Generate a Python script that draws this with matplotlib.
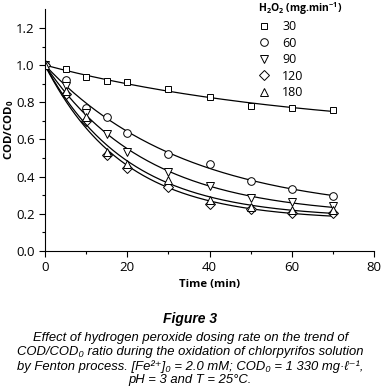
import numpy as np
import matplotlib
matplotlib.use("Agg")
import matplotlib.pyplot as plt

plt.rcParams['font.family'] = ['Open Sans', 'DejaVu Sans']
plt.rcParams['mathtext.fontset'] = 'custom'
plt.rcParams['mathtext.rm'] = 'Open Sans'
plt.rcParams['mathtext.it'] = 'Liberation Sans:italic'
plt.rcParams['mathtext.bf'] = 'Open Sans:bold'

# data
time = np.array([0, 5, 10, 15, 20, 30, 40, 50, 60, 70])
cod_30 = np.array([1.0, 0.977, 0.937, 0.916, 0.910, 0.871, 0.826, 0.778, 0.770, 0.760])
cod_60 = np.array([1.0, 0.918, 0.772, 0.719, 0.637, 0.521, 0.468, 0.375, 0.332, 0.296])
cod_90 = np.array([1.0, 0.890, 0.740, 0.627, 0.534, 0.426, 0.351, 0.283, 0.265, 0.242])
cod_120 = np.array([1.0, 0.845, 0.697, 0.516, 0.448, 0.342, 0.253, 0.224, 0.206, 0.203])
cod_180 = np.array([1.0, 0.860, 0.719, 0.530, 0.468, 0.380, 0.275, 0.238, 0.220, 0.220])

doses = ["30", "60", "90", "120", "180"]
series = [cod_30, cod_60, cod_90, cod_120, cod_180]
markers = ["s", "o", "v", "D", "^"]
msizes = [5, 5.5, 5.5, 5, 5.5]


def fit_decay(t, y):
    # y = a + (1 - a) * exp(-k t), least squares over k
    best = None
    for k in np.linspace(0.0005, 0.2, 4000):
        e = np.exp(-k * t)
        g = 1 - e
        a = np.sum(g * (y - e)) / np.sum(g * g)
        r = np.sum((a + (1 - a) * e - y) ** 2)
        if best is None or r < best[0]:
            best = (r, a, k)
    return best[1], best[2]


fig = plt.figure(figsize=(3.81, 3.90), dpi=100)
ax = fig.add_axes([0.118, 0.3564, 0.864, 0.6196])

tt = np.linspace(0, 70, 200)
for y, m, ms, lab in zip(series, markers, msizes, doses):
    a, k = fit_decay(time, y)
    ax.plot(tt, a + (1 - a) * np.exp(-k * tt), color='black', linewidth=0.9)
    ax.plot(time, y, linestyle='none', marker=m, markersize=ms,
            markerfacecolor='white', markeredgecolor='black',
            markeredgewidth=0.7, label=lab)

ax.set_xlim(0, 80)
ax.set_ylim(0, 1.3)
ax.set_xticks([0, 20, 40, 60, 80])
ax.set_xticks([10, 30, 50, 70], minor=True)
ax.set_yticks([0.0, 0.2, 0.4, 0.6, 0.8, 1.0, 1.2])
ax.set_yticks(np.arange(0.1, 1.3, 0.2), minor=True)
ax.set_yticklabels(["0.0", "0.2", "0.4", "0.6", "0.8", "1.0", "1.2"])
ax.tick_params(which='major', direction='out', length=4, width=0.8, labelsize=9.5)
ax.tick_params(which='minor', direction='out', length=2, width=0.8)
ax.spines['top'].set_visible(False)
ax.spines['right'].set_visible(False)

ax.set_xlabel("Time (min)", fontweight='bold', fontsize=8.2, labelpad=3)
ax.set_ylabel(r"COD/COD$_\mathbf{0}$", fontweight='bold', fontsize=8.2, va='center')
ax.yaxis.set_label_coords(-0.11, 0.5)

leg = ax.legend(loc='upper left', bbox_to_anchor=(258 / 381, 1.0),
                bbox_transform=fig.transFigure, frameon=False,
                title=r"H$_\mathbf{2}$O$_\mathbf{2}$ (mg.min$^\mathbf{-1}$)",
                title_fontproperties={'weight': 'bold', 'size': 7.5},
                fontsize=9, labelspacing=0.28, handletextpad=0.95,
                handlelength=1.0, borderpad=0, borderaxespad=0)
leg._legend_box.align = "left"

fig.text(0.5, 0.181, "Figure 3", ha='center', va='center',
         fontsize=10, fontweight='bold', style='italic', family='Liberation Sans')
caption = [
    "Effect of hydrogen peroxide dosing rate on the trend of",
    "COD/COD\u2080 ratio during the oxidation of chlorpyrifos solution",
    "by Fenton process. [Fe\u00b2\u207a]\u2080 = 2.0 mM; COD\u2080 = 1 330 mg\u00b7\u2113\u207b\u00b9,",
    "pH = 3 and T = 25°C.",
]
fig.text(0.5, 0.079, "\n".join(caption), ha='center', va='center',
         multialignment='center', linespacing=1.2,
         fontsize=9.4, style='italic', family=['Liberation Sans', 'DejaVu Sans'])

fig.savefig("out.png", dpi=100)
